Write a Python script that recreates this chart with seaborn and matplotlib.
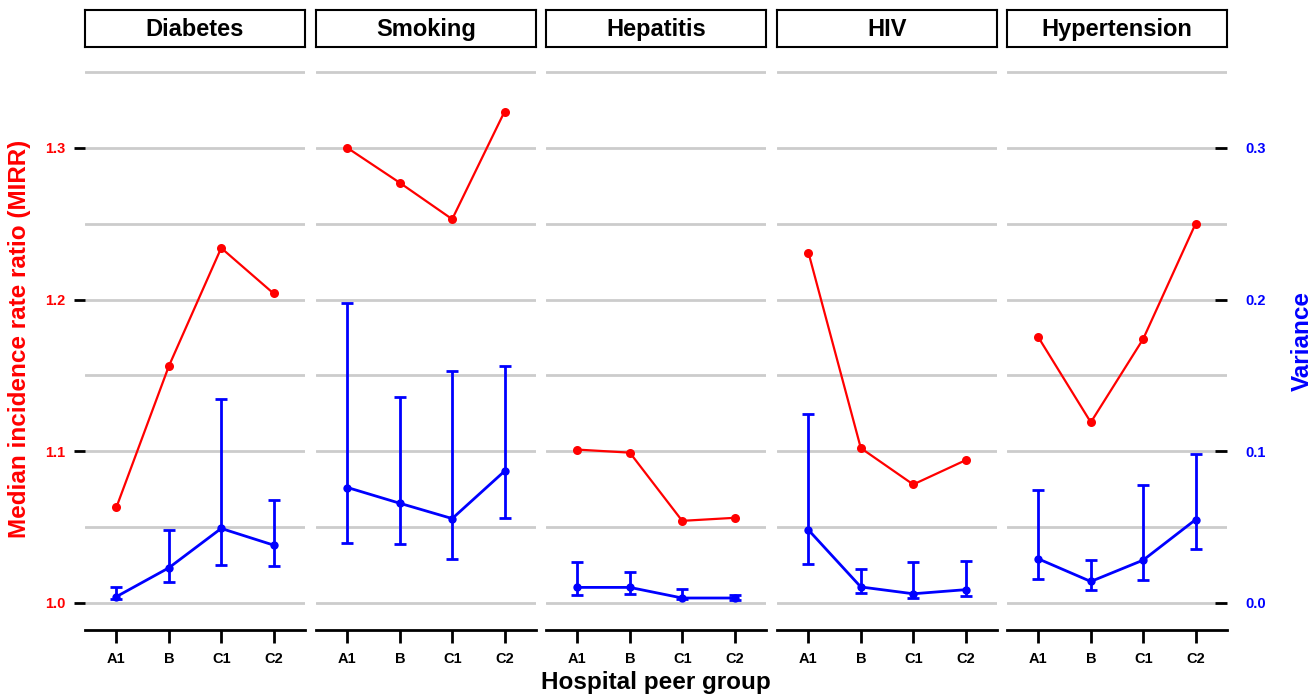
import pandas as pd
import matplotlib
matplotlib.use('Agg')
import matplotlib.pyplot as plt
import seaborn as sns
from matplotlib.ticker import MultipleLocator

# Data
groups = ['A1', 'B', 'C1', 'C2']
conditions = ['Diabetes', 'Smoking', 'Hepatitis', 'HIV', 'Hypertension']

mirr = [
    [1.063, 1.156, 1.234, 1.204],
    [1.300, 1.277, 1.253, 1.324],
    [1.101, 1.099, 1.054, 1.056],
    [1.231, 1.102, 1.078, 1.094],
    [1.175, 1.119, 1.174, 1.250],
]
variance = [
    [0.0040, 0.0230, 0.0490, 0.0380],
    [0.0760, 0.0656, 0.0555, 0.0868],
    [0.0101, 0.0101, 0.0031, 0.0031],
    [0.0480, 0.0104, 0.0059, 0.0086],
    [0.0289, 0.0140, 0.0281, 0.0548],
]
var_low = [
    [0.0026, 0.0136, 0.0248, 0.0239],
    [0.0396, 0.0387, 0.0288, 0.0559],
    [0.0053, 0.0059, 0.0022, 0.0015],
    [0.0253, 0.0062, 0.0033, 0.0044],
    [0.0154, 0.0083, 0.0149, 0.0355],
]
var_high = [
    [0.0105, 0.0477, 0.1343, 0.0679],
    [0.1977, 0.1354, 0.1527, 0.1562],
    [0.0271, 0.0205, 0.0088, 0.0051],
    [0.1247, 0.0222, 0.0267, 0.0275],
    [0.0746, 0.0285, 0.0776, 0.0982],
]

# long table for seaborn
rows = []
for c, cond in enumerate(conditions):
    for g, grp in enumerate(groups):
        rows.append({'condition': cond, 'group': grp, 'pos': g,
                     'mirr': mirr[c][g], 'variance': variance[c][g],
                     'low': var_low[c][g], 'high': var_high[c][g]})
df = pd.DataFrame(rows)

sns.set_style('white')
plt.rcParams['font.family'] = ['Liberation Sans', 'DejaVu Sans']
plt.rcParams['font.weight'] = 'bold'
plt.rcParams['text.color'] = 'black'
plt.rcParams['xtick.color'] = 'black'
plt.rcParams['ytick.color'] = 'black'

W, H = 1316, 696
fig = plt.figure(figsize=(W / 100, H / 100), dpi=100)

panel_left = [85, 316, 546, 777, 1007]
panel_w = 220
top_px, bottom_px = 60, 630
ylim = (0.982, 1.358)

for i, cond in enumerate(conditions):
    sub = df[df['condition'] == cond]
    ax = fig.add_axes([panel_left[i] / W, 1 - bottom_px / H,
                       panel_w / W, (bottom_px - top_px) / H])
    ax2 = ax.twinx()

    ax.set_xlim(-0.6, 3.6)
    ax.set_ylim(*ylim)
    ax.yaxis.set_major_locator(MultipleLocator(0.1))
    ax.yaxis.set_minor_locator(MultipleLocator(0.05))
    ax.grid(True, which='both', axis='y', color='#cccccc', linewidth=2)
    ax.set_axisbelow(True)
    for s in ['top', 'left', 'right']:
        ax.spines[s].set_visible(False)
    ax.spines['bottom'].set_linewidth(2)
    ax.spines['bottom'].set_color('black')

    sns.lineplot(data=sub, x='pos', y='mirr', ax=ax, color='red',
                 marker='o', markersize=6.5, markeredgewidth=0,
                 linewidth=1.6, legend=False)

    ax.set_xticks(range(len(groups)))
    ax.set_xticklabels(groups)
    ax.tick_params(axis='x', length=9, width=2, pad=7, labelsize=10.5,
                   colors='black', bottom=True)
    ax.tick_params(axis='y', which='minor', left=False, right=False, length=0)
    if i == 0:
        ax.tick_params(axis='y', which='major', left=True, right=False,
                       length=8, width=2, pad=6, labelsize=10.5,
                       labelcolor='red', color='black')
        ax.set_yticklabels([f'{v:.1f}' for v in ax.get_yticks()])
    else:
        ax.tick_params(axis='y', which='major', left=False, right=False,
                       labelleft=False)
    ax.set_xlabel('')
    ax.set_ylabel('')

    # variance on the second axis
    ax2.set_ylim(ylim[0] - 1, ylim[1] - 1)
    ax2.set_xlim(-0.6, 3.6)
    for s in ax2.spines.values():
        s.set_visible(False)
    sns.lineplot(data=sub, x='pos', y='variance', ax=ax2, color='blue',
                 marker='o', markersize=6, markeredgewidth=0,
                 linewidth=2.0, legend=False)
    ax2.errorbar(sub['pos'], sub['variance'],
                 yerr=[sub['variance'] - sub['low'], sub['high'] - sub['variance']],
                 fmt='none', ecolor='blue', elinewidth=2.0, capsize=4,
                 capthick=2.0)
    ax2.set_ylabel('')
    ax2.set_xlabel('')
    if i == len(conditions) - 1:
        ax2.set_yticks([0.0, 0.1, 0.2, 0.3])
        ax2.set_yticklabels(['0.0', '0.1', '0.2', '0.3'])
        ax2.tick_params(axis='y', right=True, left=False, direction='in',
                        length=9, width=2, pad=13, labelsize=10.5,
                        labelcolor='blue', color='black')
    else:
        ax2.set_yticks([])

    # strip title box
    sax = fig.add_axes([panel_left[i] / W, 1 - 47 / H, panel_w / W, 37 / H])
    sax.set_xticks([])
    sax.set_yticks([])
    for s in sax.spines.values():
        s.set_visible(True)
        s.set_color('black')
        s.set_linewidth(1.5)
    sax.set_facecolor('white')
    sax.text(0.5, 0.48, cond, ha='center', va='center', fontsize=17,
             fontweight='bold', color='black', transform=sax.transAxes)

fig.text(656 / W, 1 - 683 / H, 'Hospital peer group', ha='center',
         va='center', fontsize=17.5, fontweight='bold', color='black')
fig.text(20 / W, 1 - 339 / H, 'Median incidence rate ratio (MIRR)',
         ha='center', va='center', rotation=90, fontsize=17.5,
         fontweight='bold', color='red')
fig.text(1302 / W, 1 - 341 / H, 'Variance', ha='center', va='center',
         rotation=90, fontsize=17.5, fontweight='bold', color='blue')

fig.savefig('out.png', dpi=100, facecolor='white')
